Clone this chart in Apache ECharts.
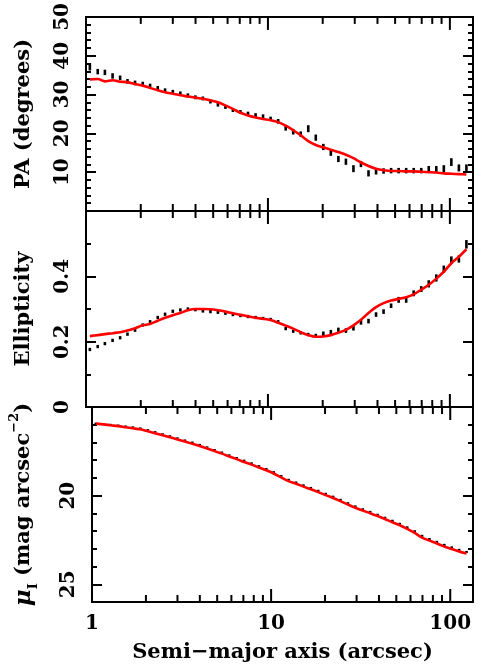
<!DOCTYPE html>
<html>
<head>
<meta charset="utf-8">
<script src="https://cdn.jsdelivr.net/npm/echarts@6/dist/echarts.min.js"></script>
<style>
html, body { margin: 0; padding: 0; background: #fff; }
#chart { width: 485px; height: 668px; }
</style>
</head>
<body>
<div id="chart"></div>
<script>
// semi-major axis of each isophote (arcsec)
const sma = [
  1.05, 1.16, 1.27, 1.40, 1.54, 1.69, 1.86, 2.05, 2.25, 2.48,
  2.72, 3.00, 3.30, 3.63, 3.99, 4.39, 4.83, 5.31, 5.84, 6.42,
  7.06, 7.77, 8.55, 9.40, 10.34, 11.38, 12.52, 13.77, 15.14, 16.66,
  18.32, 20.16, 22.17, 24.39, 26.83, 29.51, 32.46, 35.71, 39.28, 43.21,
  47.53, 52.28, 57.51, 63.26, 69.59, 76.55, 84.20, 92.62, 101.89, 112.07,
  123.28
]

// position angle (degrees)
const paData = [
  37.1, 35.9, 35.7, 34.8, 34.3, 33.4, 33.0, 32.8, 32.3, 31.7,
  31.1, 30.7, 30.3, 29.8, 29.3, 29.0, 28.2, 27.4, 26.8, 26.0,
  25.5, 25.1, 24.7, 24.4, 23.8, 23.1, 21.4, 20.4, 19.8, 21.2,
  18.9, 16.5, 15.0, 13.4, 12.7, 10.9, 12.1, 9.7, 10.1, 10.3,
  10.4, 10.4, 10.4, 10.4, 10.4, 10.8, 10.8, 10.9, 12.6, 11.1,
  11.1
]
const paErr = [
  0.9, 0.7, 0.7, 0.7, 0.6, 0.6, 0.6, 0.5, 0.5, 0.5,
  0.5, 0.5, 0.5, 0.5, 0.5, 0.5, 0.5, 0.5, 0.5, 0.5,
  0.5, 0.5, 0.5, 0.5, 0.5, 0.6, 0.7, 0.7, 0.7, 0.9,
  0.8, 0.8, 0.8, 0.8, 0.8, 0.9, 0.8, 0.8, 0.7, 0.7,
  0.7, 0.7, 0.7, 0.7, 0.7, 0.8, 0.8, 0.9, 1.0, 0.9,
  0.9
]
const paModel = [
  33.9, 34.0, 33.4, 33.7, 33.3, 33.2, 32.7, 32.3, 31.7, 31.1,
  30.6, 30.2, 29.8, 29.5, 29.2, 28.9, 28.5, 28.0, 27.2, 26.3,
  25.3, 24.6, 24.1, 23.7, 23.4, 22.9, 22.0, 20.8, 19.5, 18.0,
  17.0, 16.4, 15.8, 15.2, 14.5, 13.6, 12.5, 11.6, 10.9, 10.5,
  10.3, 10.3, 10.2, 10.2, 10.1, 10.0, 9.9, 9.7, 9.6, 9.5,
  9.4
]

// ellipticity
const ellData = [
  0.176, 0.185, 0.194, 0.204, 0.212, 0.223, 0.235, 0.251, 0.261, 0.274,
  0.284, 0.293, 0.297, 0.300, 0.298, 0.294, 0.292, 0.290, 0.287, 0.283,
  0.280, 0.277, 0.274, 0.271, 0.268, 0.261, 0.240, 0.232, 0.227, 0.222,
  0.219, 0.224, 0.229, 0.236, 0.234, 0.241, 0.259, 0.263, 0.283, 0.292,
  0.310, 0.328, 0.328, 0.348, 0.361, 0.377, 0.395, 0.422, 0.450, 0.453,
  0.498
]
const ellErr = [
  0.005, 0.005, 0.005, 0.005, 0.005, 0.005, 0.005, 0.005, 0.005, 0.005,
  0.005, 0.005, 0.005, 0.005, 0.005, 0.005, 0.005, 0.005, 0.005, 0.005,
  0.005, 0.005, 0.005, 0.005, 0.005, 0.005, 0.005, 0.005, 0.005, 0.005,
  0.005, 0.007, 0.007, 0.007, 0.007, 0.007, 0.007, 0.007, 0.007, 0.007,
  0.007, 0.009, 0.009, 0.009, 0.009, 0.011, 0.011, 0.011, 0.011, 0.011,
  0.013
]
const ellModel = [
  0.217, 0.220, 0.223, 0.226, 0.229, 0.234, 0.241, 0.250, 0.254, 0.264,
  0.273, 0.281, 0.288, 0.296, 0.300, 0.300, 0.299, 0.296, 0.292, 0.287,
  0.282, 0.278, 0.273, 0.270, 0.266, 0.258, 0.249, 0.240, 0.229, 0.220,
  0.215, 0.216, 0.220, 0.227, 0.236, 0.250, 0.267, 0.288, 0.306, 0.318,
  0.326, 0.331, 0.336, 0.345, 0.359, 0.374, 0.393, 0.414, 0.440, 0.460,
  0.483
]

// surface brightness (mag arcsec^-2)
const muData = [
  15.92, 15.95, 15.99, 16.03, 16.08, 16.13, 16.19, 16.29, 16.40, 16.52,
  16.63, 16.75, 16.87, 16.99, 17.12, 17.26, 17.41, 17.55, 17.71, 17.86,
  18.02, 18.17, 18.33, 18.49, 18.67, 18.89, 19.10, 19.25, 19.41, 19.56,
  19.72, 19.89, 20.05, 20.23, 20.42, 20.60, 20.76, 20.91, 21.07, 21.24,
  21.42, 21.59, 21.79, 22.01, 22.27, 22.45, 22.61, 22.78, 22.92, 23.06,
  23.18
]
const muErr = [
  0.04, 0.04, 0.04, 0.04, 0.04, 0.04, 0.04, 0.04, 0.04, 0.04,
  0.04, 0.04, 0.04, 0.04, 0.04, 0.04, 0.04, 0.04, 0.04, 0.04,
  0.05, 0.05, 0.05, 0.05, 0.05, 0.05, 0.05, 0.05, 0.05, 0.05,
  0.05, 0.05, 0.05, 0.05, 0.05, 0.05, 0.05, 0.05, 0.05, 0.05,
  0.06, 0.06, 0.06, 0.06, 0.06, 0.06, 0.06, 0.06, 0.06, 0.06,
  0.06
]
const muModel = [
  15.94, 15.98, 16.03, 16.08, 16.14, 16.20, 16.26, 16.37, 16.48, 16.60,
  16.71, 16.83, 16.95, 17.07, 17.20, 17.34, 17.49, 17.63, 17.79, 17.94,
  18.10, 18.25, 18.41, 18.57, 18.75, 18.97, 19.18, 19.33, 19.49, 19.64,
  19.80, 19.97, 20.13, 20.31, 20.50, 20.68, 20.84, 20.99, 21.15, 21.32,
  21.50, 21.67, 21.87, 22.10, 22.37, 22.54, 22.70, 22.87, 23.01, 23.15,
  23.27
]

const xMajorTicks = [1, 10, 100]
const xMinorTicks = [2, 3, 4, 5, 6, 7, 8, 9, 20, 30, 40, 50, 60, 70, 80, 90]
const xTickLabels = [1, 10, 100]
const paTickLabels = [10, 20, 30, 40, 50]
const ellTickLabels = [0, 0.2, 0.4]
const muTickLabels = [20, 25]

const FONT = '"DejaVu Serif", "Liberation Serif", serif'
const yMins = [0, 0, 15]

const grids = [
  { left: 86, right: 12, top: 15, height: 196 },
  { left: 86, right: 12, top: 211, height: 196 },
  { left: 86, right: 12, top: 407, height: 195 },
].map(g => ({ ...g, show: true, borderColor: '#000', borderWidth: 2, backgroundColor: 'transparent' }))

function xAxis(gi, showLabels) {
  return {
    type: 'log', logBase: 10, gridIndex: gi, min: 1, max: 134,
    axisLine: { show: false }, axisTick: { show: false }, splitLine: { show: false },
    axisLabel: {
      show: showLabels, margin: 12, fontSize: 20, fontWeight: 'bold', fontFamily: FONT, color: '#000',
      formatter: v => xTickLabels.includes(Math.round(v)) && Math.abs(v - Math.round(v)) < 1e-6 ? String(Math.round(v)) : ''
    },
    name: showLabels ? 'Semi\u2212major axis (arcsec)' : '',
    nameLocation: 'middle', nameGap: 40,
    nameTextStyle: { fontSize: 21, fontWeight: 'bold', fontFamily: FONT, color: '#000' }
  }
}

function yAxisPair(gi, min, max, interval, minorSplit, labels, name, nameStyle, inverse) {
  const base = {
    type: 'value', gridIndex: gi, min, max, interval, inverse: !!inverse,
    axisLine: { show: false }, splitLine: { show: false }, minorSplitLine: { show: false },
    axisTick: { show: true, inside: true, length: 10, lineStyle: { color: '#000', width: 2 } },
    minorTick: { show: true, splitNumber: minorSplit, length: 5, lineStyle: { color: '#000', width: 2 } }
  }
  return [
    {
      ...base, position: 'left',
      name, nameLocation: 'middle', nameGap: 52, nameRotate: 90,
      nameTextStyle: { fontSize: 21, fontWeight: 'bold', fontFamily: FONT, color: '#000', ...nameStyle },
      axisLabel: {
        rotate: 90, margin: 13, fontSize: 20, fontWeight: 'bold', fontFamily: FONT, color: '#000',
        formatter: v => labels.some(l => Math.abs(l - v) < 1e-9) ? String(v) : ''
      }
    },
    { ...base, position: 'right', axisLabel: { show: false } }
  ]
}

function errorSeries(gi, vals, errs) {
  return {
    type: 'custom', xAxisIndex: gi, yAxisIndex: gi * 2, silent: true, z: 2,
    data: sma.map((x, i) => [x, vals[i], errs[i]]),
    renderItem: (params, api) => {
      const x = api.value(0), y = api.value(1), e = api.value(2)
      const p1 = api.coord([x, y - e])
      const p2 = api.coord([x, y + e])
      return {
        type: 'line',
        shape: { x1: p1[0], y1: p1[1], x2: p2[0], y2: p2[1] },
        style: { stroke: '#000', lineWidth: 2.6 }
      }
    }
  }
}

function modelSeries(gi, vals) {
  return {
    type: 'line', xAxisIndex: gi, yAxisIndex: gi * 2, z: 3, silent: true,
    data: sma.map((x, i) => [x, vals[i]]),
    showSymbol: false, smooth: 0.3,
    lineStyle: { color: '#ff0000', width: 2.6 }
  }
}

function tickSeries(gi, values, len) {
  return {
    type: 'custom', xAxisIndex: gi, yAxisIndex: gi * 2, silent: true, clip: false, z: 4,
    data: values.map(v => [v, yMins[gi]]),
    renderItem: (params, api) => {
      const cs = params.coordSys
      const px = api.coord([api.value(0), api.value(1)])[0]
      const bottom = cs.y + cs.height
      return {
        type: 'group',
        children: [
          { type: 'line', shape: { x1: px, y1: bottom, x2: px, y2: bottom - len }, style: { stroke: '#000', lineWidth: 2 } },
          { type: 'line', shape: { x1: px, y1: cs.y, x2: px, y2: cs.y + len }, style: { stroke: '#000', lineWidth: 2 } }
        ]
      }
    }
  }
}

const chart = echarts.init(document.getElementById('chart'))
const series = []
;[[paData, paErr, paModel], [ellData, ellErr, ellModel], [muData, muErr, muModel]].forEach((d, gi) => {
  series.push(errorSeries(gi, d[0], d[1]))
  series.push(modelSeries(gi, d[2]))
  series.push(tickSeries(gi, xMajorTicks, 13))
  series.push(tickSeries(gi, xMinorTicks, 7))
})

chart.setOption({
  animation: false,
  backgroundColor: '#fff',
  grid: grids,
  xAxis: [xAxis(0, false), xAxis(1, false), xAxis(2, true)],
  yAxis: [
    ...yAxisPair(0, 0, 50, 10, 5, paTickLabels, 'PA (degrees)', {}),
    ...yAxisPair(1, 0, 0.6, 0.2, 2, ellTickLabels, 'Ellipticity', {}),
    ...yAxisPair(2, 15, 26, 5, 5, muTickLabels, '{mu|\u03bc}{sub|I} (mag arcsec{sup|\u22122})', {
      lineHeight: 32,
      rich: {
        mu: { fontSize: 23, fontStyle: 'italic', fontWeight: 'bold', fontFamily: FONT, color: '#000' },
        sub: { fontSize: 13, fontWeight: 'bold', fontFamily: FONT, color: '#000', verticalAlign: 'bottom', lineHeight: 32 },
        sup: { fontSize: 13, fontWeight: 'bold', fontFamily: FONT, color: '#000', verticalAlign: 'top', lineHeight: 32 }
      }
    }, true)
  ],
  series
})
</script>
</body>
</html>
